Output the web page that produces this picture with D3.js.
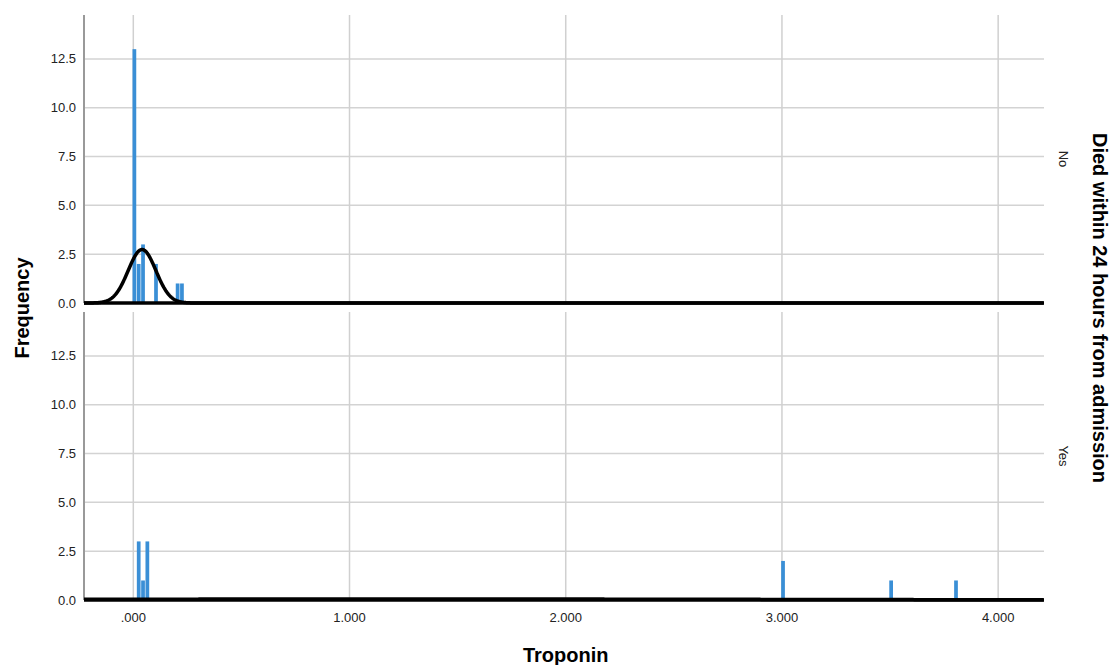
<!DOCTYPE html>
<html lang="en">
<head>
  <meta charset="UTF-8" />
  <title>Troponin histogram</title>
  <style>
  body {
    margin: 0;
    background: #fff;
    font-family: "Liberation Sans", Arial, sans-serif;
  }
  svg {
    display: block;
  }
  .tick-label {
    font-size: 13px;
    fill: #222;
  }
  .axis-title {
    font-size: 20px;
    font-weight: bold;
    fill: #000;
  }
  </style>
  <script src="https://d3js.org/d3.v7.min.js"></script>
</head>
<body>
  <div id="chart"></div>
  <script>
    // Histogram bins (lower edge of each bin) and counts
    const binWidth = 0.02;
    const groups = ["No", "Yes"];
    const noBins = [-0.005, 0.015, 0.035, 0.095, 0.195, 0.215];
    const noCounts = [13, 2, 3, 2, 1, 1];
    const yesBins = [0.015, 0.035, 0.055, 2.995, 3.495, 3.795];
    const yesCounts = [3, 1, 3, 2, 1, 1];
    const xTicks = [0, 1, 2, 3, 4];
    const yTicks = [0, 2.5, 5, 7.5, 10, 12.5];

    const width = 1111;
    const height = 665;
    const margin = { left: 84, right: 67 };
    const panels = [
      { name: "No", bins: noBins, counts: noCounts, top: 15, bottom: 303 },
      { name: "Yes", bins: yesBins, counts: yesCounts, top: 312, bottom: 600 }
    ];

    const svg = d3.select("#chart").append("svg")
      .attr("width", width)
      .attr("height", height);

    const x = d3.scaleLinear()
      .domain([-0.228, 4.212])
      .range([margin.left, width - margin.right]);

    const fmtX = d => d3.format(".3f")(d).replace(/^0\./, ".").replace(/^(\d)\./, "$1.");
    const fmtY = d3.format(".1f");

    // normal curve fitted to the binned values of a group
    function normalCurve(bins, counts) {
      const mids = bins.map(b => b + binWidth / 2);
      const n = d3.sum(counts);
      const mean = d3.sum(mids, (m, i) => m * counts[i]) / n;
      const sd = Math.sqrt(d3.sum(mids, (m, i) => counts[i] * (m - mean) ** 2) / (n - 1));
      const xs = d3.range(x.domain()[0], x.domain()[1], 0.002);
      return xs.map(v => [v, n * binWidth * Math.exp(-0.5 * ((v - mean) / sd) ** 2) / (sd * Math.sqrt(2 * Math.PI))]);
    }

    panels.forEach(p => {
      const y = d3.scaleLinear()
        .domain([0, 14.75])
        .range([p.bottom, p.top]);

      const g = svg.append("g");

      // horizontal gridlines
      g.selectAll(".hgrid")
        .data(yTicks.filter(t => t > 0))
        .enter().append("line")
        .attr("x1", x.range()[0])
        .attr("x2", x.range()[1])
        .attr("y1", d => y(d))
        .attr("y2", d => y(d))
        .attr("stroke", "#d3d3d3")
        .attr("stroke-width", 1.5);

      // vertical gridlines
      g.selectAll(".vgrid")
        .data(xTicks)
        .enter().append("line")
        .attr("x1", d => x(d))
        .attr("x2", d => x(d))
        .attr("y1", p.top)
        .attr("y2", p.bottom)
        .attr("stroke", "#d0d0d0")
        .attr("stroke-width", 1.5);

      // left axis line
      g.append("line")
        .attr("x1", x.range()[0])
        .attr("x2", x.range()[0])
        .attr("y1", p.top)
        .attr("y2", p.bottom)
        .attr("stroke", "#999")
        .attr("stroke-width", 2);

      // y tick labels
      g.selectAll(".ylab")
        .data(yTicks)
        .enter().append("text")
        .attr("class", "tick-label")
        .attr("x", x.range()[0] - 8)
        .attr("y", d => y(d))
        .attr("dy", "0.35em")
        .attr("text-anchor", "end")
        .text(d => fmtY(d));

      // bars
      g.selectAll(".bar")
        .data(p.bins.map((b, i) => ({ start: b, count: p.counts[i] })))
        .enter().append("rect")
        .attr("x", d => x(d.start) + 0.3)
        .attr("width", d => x(d.start + binWidth) - x(d.start) - 0.6)
        .attr("y", d => y(d.count))
        .attr("height", d => y(0) - y(d.count))
        .attr("fill", "#3a8fd6");

      // baseline
      g.append("line")
        .attr("x1", x.range()[0])
        .attr("x2", x.range()[1])
        .attr("y1", y(0))
        .attr("y2", y(0))
        .attr("stroke", "#000")
        .attr("stroke-width", 3.5);

      // normal curve
      g.append("path")
        .datum(normalCurve(p.bins, p.counts))
        .attr("fill", "none")
        .attr("stroke", "#000")
        .attr("stroke-width", 3.5)
        .attr("stroke-linejoin", "round")
        .attr("d", d3.line().x(d => x(d[0])).y(d => y(d[1])));

      // panel label on the right
      const cy = (p.top + p.bottom) / 2;
      g.append("text")
        .attr("class", "tick-label")
        .attr("transform", `translate(${width - 52},${cy}) rotate(90)`)
        .attr("text-anchor", "middle")
        .text(p.name);
    });

    // x tick labels
    svg.selectAll(".xlab")
      .data(xTicks)
      .enter().append("text")
      .attr("class", "tick-label")
      .attr("x", d => x(d))
      .attr("y", 622)
      .attr("text-anchor", "middle")
      .text(d => fmtX(d));

    // axis titles
    svg.append("text")
      .attr("class", "axis-title")
      .attr("x", x(2))
      .attr("y", 662)
      .attr("text-anchor", "middle")
      .text("Troponin");

    svg.append("text")
      .attr("class", "axis-title")
      .attr("transform", "translate(29,308) rotate(-90)")
      .attr("text-anchor", "middle")
      .text("Frequency");

    svg.append("text")
      .attr("class", "axis-title")
      .attr("transform", "translate(1093,308) rotate(90)")
      .attr("text-anchor", "middle")
      .text("Died within 24 hours from admission");
  </script>
</body>
</html>
